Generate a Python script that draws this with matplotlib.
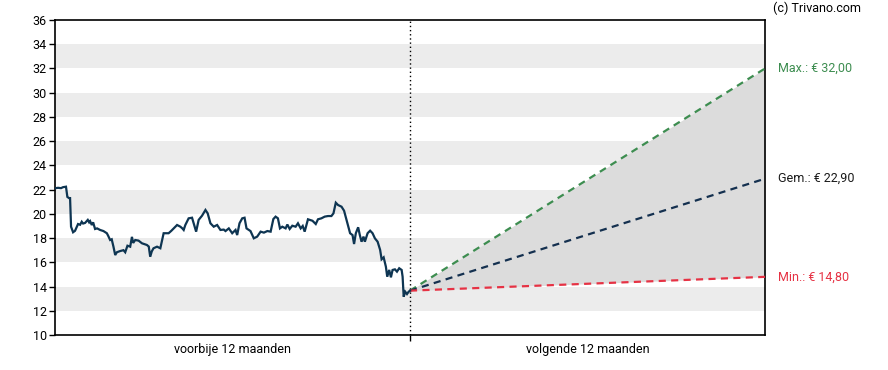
import matplotlib
matplotlib.use("Agg")
import matplotlib.pyplot as plt
import numpy as np

plt.rcParams['font.family'] = ['Roboto', 'DejaVu Sans']

# --- data -------------------------------------------------------------
days = [0, 3.1, 6.2, 8.2, 11.3, 12.7, 14.4, 15.5, 16.5, 18.6, 20.6, 23.7, 25.8, 27.5,
        28.9, 30.9, 33.7, 35.1, 36.1, 37.8, 39.2, 41.2, 43.3, 46.4, 49.8, 53.3, 54.6,
        56.7, 58.3, 60.1, 61.9, 63.6, 67.0, 70.4, 72.2, 74.5, 77.3, 79.1, 80.4, 82.5,
        85.9, 89.4, 94.5, 96.4, 97.9, 99.5, 101.3, 104.9, 108.3, 111.7, 116.8, 119.6,
        122.0, 125.5, 128.9, 130.9, 132.3, 134.0, 137.4, 140.9, 142.6, 145.1, 147.7,
        151.2, 154.7, 157.0, 159.8, 163.2, 166.7, 170.1, 173.5, 175.3, 178.7, 182.2,
        185.6, 187.3, 189.7, 192.5, 194.9, 196.9, 201.0, 204.4, 207.9, 211.4, 214.8,
        218.3, 221.7, 224.5, 226.8, 229.2, 231.3, 233.7, 237.1, 238.9, 241.3, 244.0,
        247.4, 249.8, 252.6, 254.7, 256.7, 260.1, 264.7, 268.1, 270.4, 273.9, 277.3,
        280.7, 284.2, 286.3, 288.7, 291.0, 294.6, 297.2, 300.7, 303.4, 305.9, 307.5,
        309.3, 311.7, 313.4, 315.2, 317.2, 318.6, 321.4, 324.0, 326.5, 328.9, 331.7,
        334.3, 335.8, 337.9, 340.2, 341.6, 343.6, 345.4, 347.1, 349.5, 351.6, 353.9,
        356.4, 357.4, 358.5, 360.1, 361.9, 363.6, 365]
prices = [22.11, 22.15, 22.12, 22.20, 22.24, 21.40, 21.30, 21.30, 18.94, 18.48, 18.60,
          19.16, 19.10, 19.35, 19.20, 19.25, 19.50, 19.30, 19.40, 19.08, 19.30, 18.75,
          18.80, 18.67, 18.58, 18.40, 18.20, 17.84, 17.90, 17.29, 16.60, 16.83, 16.93,
          17.00, 16.83, 17.37, 17.29, 18.10, 17.60, 17.84, 17.79, 17.57, 17.43, 17.30,
          16.46, 16.90, 17.16, 17.29, 17.16, 18.40, 18.40, 18.60, 18.80, 19.08, 18.94,
          18.80, 18.67, 19.08, 19.63, 19.68, 19.22, 18.53, 19.50, 19.85, 20.32, 20.04,
          19.22, 18.94, 19.08, 18.67, 18.70, 18.58, 18.80, 18.40, 18.67, 18.25, 19.22,
          19.63, 19.68, 18.80, 18.58, 17.98, 18.12, 18.53, 18.45, 18.58, 18.53, 19.57,
          19.77, 19.63, 18.80, 18.94, 18.80, 19.12, 18.75, 19.02, 18.94, 19.22, 18.80,
          19.00, 18.53, 19.55, 19.43, 19.16, 19.55, 19.63, 19.77, 19.82, 19.82, 20.04,
          20.92, 20.73, 20.59, 20.26, 19.22, 18.40, 18.25, 17.51, 18.40, 18.89, 18.25,
          17.70, 18.12, 17.70, 18.40, 18.61, 18.40, 17.98, 17.70, 17.02, 16.25, 16.41,
          15.64, 14.81, 15.37, 14.76, 15.37, 15.42, 15.23, 15.51, 15.37, 14.81, 13.16,
          13.57, 13.38, 13.57, 13.66]

start_value = 13.66
target_max = 32.00
target_avg = 22.90
target_min = 14.80

period_labels = ["voorbije 12 maanden", "volgende 12 maanden"]
label_texts = ["Max.: € 32,00", "Gem.: € 22,90", "Min.: € 14,80"]

# --- style --------------------------------------------------------------
c_line = "#0e3552"
c_max = "#3d8d50"
c_avg = "#14304f"
c_min = "#e63244"
c_fill = "#dcdcdc"
c_band = "#ececec"

fig = plt.figure(figsize=(8.88, 3.70), dpi=100)
ax = fig.add_axes([55/888, 35/370, 710/888, 315/370])

ax.set_xlim(0, 2)
ax.set_ylim(10, 36)

for lo in range(12, 36, 4):
    ax.axhspan(lo, lo + 2, color=c_band, lw=0, zorder=0)

x_hist = np.array(days) / 365.0
ax.plot(x_hist, prices, color=c_line, lw=1.6, zorder=4, solid_joinstyle='miter')

xp = [1, 2]
ax.fill_between(xp, [start_value, target_min], [start_value, target_max],
                color=c_fill, lw=0, zorder=1)
dash = (0, (3.2, 2.4))
ax.plot(xp, [start_value, target_max], color=c_max, lw=1.6, ls=dash, zorder=3)
ax.plot(xp, [start_value, target_avg], color=c_avg, lw=1.6, ls=dash, zorder=3)
ax.plot(xp, [start_value, target_min], color=c_min, lw=1.6, ls=dash, zorder=3)

ax.axvline(1, color="black", lw=1, ls=(0, (1, 2)), zorder=2)

ax.set_yticks(range(10, 37, 2))
ax.tick_params(axis='y', length=4, width=1, labelsize=9, pad=2, colors='black')
ax.set_xticks([1])
ax.set_xticklabels([""])
ax.tick_params(axis='x', length=4, width=1)
for xc, lab in zip([0.5, 1.5], period_labels):
    ax.text(xc, -0.025, lab, transform=ax.get_xaxis_transform(), ha='center', va='top',
            fontsize=9)

for sp in ax.spines.values():
    sp.set_linewidth(1.2)
    sp.set_color("black")

for val, txt, col in zip([target_max, target_avg, target_min], label_texts,
                         [c_max, "#1a1a1a", c_min]):
    ax.annotate(txt, xy=(2, val), xycoords='data', xytext=(9, 0),
                textcoords='offset points', ha='left', va='center', fontsize=9,
                color=col, annotation_clip=False)

fig.text(773/888, 1 - 8/370, "(c) Trivano.com", ha='left', va='center', fontsize=9)

fig.savefig("out.png", dpi=100)
